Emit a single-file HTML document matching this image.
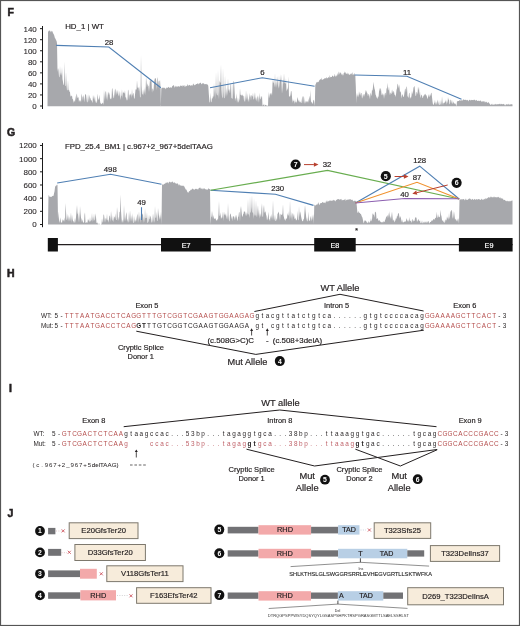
<!DOCTYPE html><html><head><meta charset="utf-8"><style>
html,body{margin:0;padding:0;background:#fff;}
body{width:520px;height:626px;overflow:hidden;position:relative;font-family:"Liberation Sans", sans-serif;}
svg{position:absolute;left:0;top:0;filter:blur(0.3px);}
text{font-family:"Liberation Sans", sans-serif;}
</style></head><body>
<svg width="520" height="626" viewBox="0 0 520 626">
<rect x="0.5" y="0.5" width="519" height="625" fill="#fff" stroke="#555" stroke-width="1.2"/>

<text x="7.40" y="16.08" font-size="10.5" text-anchor="start" font-weight="bold" fill="#231f20" stroke="#231f20" stroke-width="0.55" >F</text>
<text x="6.90" y="135.68" font-size="10.5" text-anchor="start" font-weight="bold" fill="#231f20" stroke="#231f20" stroke-width="0.55" >G</text>
<text x="7.00" y="276.78" font-size="10.5" text-anchor="start" font-weight="bold" fill="#231f20" stroke="#231f20" stroke-width="0.55" >H</text>
<text x="8.90" y="391.98" font-size="10.5" text-anchor="start" font-weight="bold" fill="#231f20" stroke="#231f20" stroke-width="0.55" >I</text>
<text x="7.40" y="516.68" font-size="10.5" text-anchor="start" font-weight="bold" fill="#231f20" stroke="#231f20" stroke-width="0.55" >J</text>
<g stroke="#1a1a1a" stroke-width="1.0" fill="none">
<line x1="42.5" y1="26" x2="42.5" y2="109"/>
<line x1="40" y1="106.00" x2="42.5" y2="106.00"/>
<line x1="40" y1="94.95" x2="42.5" y2="94.95"/>
<line x1="40" y1="83.90" x2="42.5" y2="83.90"/>
<line x1="40" y1="72.85" x2="42.5" y2="72.85"/>
<line x1="40" y1="61.80" x2="42.5" y2="61.80"/>
<line x1="40" y1="50.75" x2="42.5" y2="50.75"/>
<line x1="40" y1="39.70" x2="42.5" y2="39.70"/>
<line x1="40" y1="28.65" x2="42.5" y2="28.65"/>
</g>
<text x="36.80" y="108.88" font-size="8.0" text-anchor="end" font-weight="normal" fill="#231f20" stroke="#231f20" stroke-width="0.08" >0</text>
<text x="36.80" y="97.83" font-size="8.0" text-anchor="end" font-weight="normal" fill="#231f20" stroke="#231f20" stroke-width="0.08" >20</text>
<text x="36.80" y="86.78" font-size="8.0" text-anchor="end" font-weight="normal" fill="#231f20" stroke="#231f20" stroke-width="0.08" >40</text>
<text x="36.80" y="75.73" font-size="8.0" text-anchor="end" font-weight="normal" fill="#231f20" stroke="#231f20" stroke-width="0.08" >60</text>
<text x="36.80" y="64.68" font-size="8.0" text-anchor="end" font-weight="normal" fill="#231f20" stroke="#231f20" stroke-width="0.08" >80</text>
<text x="36.80" y="53.63" font-size="8.0" text-anchor="end" font-weight="normal" fill="#231f20" stroke="#231f20" stroke-width="0.08" >100</text>
<text x="36.80" y="42.58" font-size="8.0" text-anchor="end" font-weight="normal" fill="#231f20" stroke="#231f20" stroke-width="0.08" >120</text>
<text x="36.80" y="31.53" font-size="8.0" text-anchor="end" font-weight="normal" fill="#231f20" stroke="#231f20" stroke-width="0.08" >140</text>
<path d="M47.5,106.2 L47.5,106.0 L48.0,31.9 L48.5,31.2 L49.0,30.4 L49.5,30.8 L50.0,30.6 L50.5,31.4 L51.0,32.4 L51.5,31.0 L52.0,30.7 L52.5,31.8 L53.0,33.0 L53.5,34.1 L54.0,34.7 L54.5,36.6 L55.0,38.5 L55.5,38.4 L56.0,40.3 L56.5,40.7 L57.0,43.2 L57.5,72.0 L58.0,68.0 L58.5,70.1 L59.0,76.5 L59.5,77.5 L60.0,66.0 L60.5,75.4 L61.0,72.3 L61.5,75.9 L62.0,67.0 L62.5,79.0 L63.0,82.0 L63.5,84.9 L64.0,84.4 L64.5,61.5 L65.0,86.1 L65.5,85.8 L66.0,72.0 L66.5,84.3 L67.0,90.2 L67.5,90.3 L68.0,80.0 L68.5,90.6 L69.0,89.4 L69.5,91.7 L70.0,92.1 L70.5,97.0 L71.0,95.3 L71.5,96.5 L72.0,95.4 L72.5,99.2 L73.0,98.9 L73.5,102.9 L74.0,100.3 L74.5,100.9 L75.0,102.3 L75.5,95.5 L76.0,100.4 L76.5,93.5 L77.0,95.0 L77.5,98.0 L78.0,97.6 L78.5,97.2 L79.0,102.3 L79.5,99.8 L80.0,101.6 L80.5,100.1 L81.0,102.7 L81.5,93.6 L82.0,96.0 L82.5,97.2 L83.0,101.1 L83.5,94.8 L84.0,97.3 L84.5,102.5 L85.0,95.2 L85.5,93.9 L86.0,94.4 L86.5,98.4 L87.0,102.4 L87.5,102.0 L88.0,94.0 L88.5,98.6 L89.0,102.1 L89.5,94.7 L90.0,97.6 L90.5,98.4 L91.0,100.4 L91.5,100.1 L92.0,101.6 L92.5,103.1 L93.0,94.8 L93.5,99.5 L94.0,95.0 L94.5,100.9 L95.0,96.3 L95.5,103.1 L96.0,100.4 L96.5,103.1 L97.0,102.5 L97.5,93.6 L98.0,97.4 L98.5,99.9 L99.0,98.9 L99.5,94.8 L100.0,100.7 L100.5,103.6 L101.0,103.3 L101.5,104.3 L102.0,103.8 L102.5,103.0 L103.0,102.5 L103.5,104.9 L104.0,89.2 L104.5,101.2 L105.0,92.0 L105.5,91.1 L106.0,100.0 L106.5,96.6 L107.0,91.0 L107.5,101.1 L108.0,93.8 L108.5,91.4 L109.0,95.4 L109.5,92.3 L110.0,99.0 L110.5,99.3 L111.0,97.3 L111.5,99.5 L112.0,88.0 L112.5,89.0 L113.0,94.5 L113.5,97.6 L114.0,98.5 L114.5,88.9 L115.0,96.3 L115.5,88.5 L116.0,90.0 L116.5,95.3 L117.0,89.8 L117.5,92.1 L118.0,94.4 L118.5,96.5 L119.0,90.1 L119.5,96.7 L120.0,91.0 L120.5,100.1 L121.0,96.5 L121.5,95.3 L122.0,89.0 L122.5,98.7 L123.0,91.2 L123.5,93.1 L124.0,92.5 L124.5,93.7 L125.0,90.0 L125.5,97.7 L126.0,96.9 L126.5,99.3 L127.0,100.8 L127.5,99.2 L128.0,89.5 L128.5,90.7 L129.0,100.3 L129.5,94.1 L130.0,95.8 L130.5,94.2 L131.0,93.3 L131.5,98.1 L132.0,88.8 L132.5,96.0 L133.0,93.8 L133.5,92.7 L134.0,98.0 L134.5,99.1 L135.0,94.8 L135.5,90.0 L136.0,89.1 L136.5,90.0 L137.0,80.0 L137.5,86.9 L138.0,88.3 L138.5,86.9 L139.0,91.6 L139.5,85.9 L140.0,97.3 L140.5,97.3 L141.0,55.0 L141.5,85.7 L142.0,94.1 L142.5,94.7 L143.0,89.2 L143.5,96.1 L144.0,88.4 L144.5,94.2 L145.0,86.6 L145.5,95.6 L146.0,77.0 L146.5,81.8 L147.0,87.8 L147.5,83.3 L148.0,85.5 L148.5,86.0 L149.0,92.1 L149.5,86.1 L150.0,79.0 L150.5,81.9 L151.0,79.0 L151.5,80.5 L152.0,93.0 L152.5,88.5 L153.0,88.7 L153.5,91.6 L154.0,83.2 L154.5,80.0 L155.0,78.0 L155.5,78.3 L156.0,79.2 L156.5,90.2 L157.0,79.3 L157.5,76.9 L158.0,88.6 L158.5,82.0 L159.0,80.6 L159.5,80.9 L160.0,89.4 L160.5,79.5 L160.8,106.0 L161.3,88.7 L161.8,87.7 L162.3,87.9 L162.8,87.6 L163.3,87.6 L163.8,88.3 L164.3,87.6 L164.8,88.3 L165.3,88.3 L165.8,89.4 L166.3,86.9 L166.8,88.5 L167.3,87.7 L167.8,87.7 L168.3,86.7 L168.8,87.3 L169.3,88.1 L169.8,87.5 L170.3,87.5 L170.8,87.2 L171.3,88.1 L171.8,87.2 L172.3,85.6 L172.8,86.6 L173.3,85.6 L173.8,84.7 L174.3,86.5 L174.8,87.7 L175.3,86.7 L175.8,85.8 L176.3,85.9 L176.8,87.3 L177.3,86.5 L177.8,86.4 L178.3,86.2 L178.8,86.2 L179.3,86.7 L179.8,86.4 L180.3,86.1 L180.8,85.2 L181.3,86.3 L181.8,85.4 L182.3,86.7 L182.8,85.0 L183.3,85.7 L183.8,85.8 L184.3,84.9 L184.8,87.0 L185.3,86.8 L185.8,85.4 L186.3,86.2 L186.8,85.9 L187.3,83.8 L187.8,85.8 L188.3,85.5 L188.8,85.6 L189.3,84.8 L189.8,85.3 L190.3,85.3 L190.8,86.1 L191.3,85.4 L191.8,85.0 L192.3,86.0 L192.8,84.4 L193.3,84.4 L193.8,83.3 L194.3,85.5 L194.8,85.0 L195.3,84.8 L195.8,84.5 L196.3,84.0 L196.8,84.0 L197.3,83.5 L197.8,83.4 L198.3,83.5 L198.8,84.4 L199.3,83.6 L199.8,83.0 L200.3,82.7 L200.8,82.7 L201.3,84.4 L201.8,83.7 L202.3,83.5 L202.8,83.3 L203.3,82.9 L203.8,83.7 L204.3,84.5 L204.8,83.7 L205.3,84.0 L205.8,84.2 L206.3,84.6 L206.8,83.7 L207.3,84.8 L207.8,84.6 L208.3,86.0 L208.8,93.7 L209.5,102.3 L210.0,102.6 L210.5,92.4 L211.0,102.4 L211.5,101.8 L212.0,97.5 L212.5,99.0 L213.0,95.4 L213.5,97.5 L214.0,82.2 L214.5,97.0 L215.0,85.6 L215.5,99.4 L216.0,72.0 L216.5,92.5 L217.0,95.2 L217.5,95.3 L218.0,70.0 L218.5,91.7 L219.0,99.6 L219.5,80.3 L220.0,82.8 L220.5,82.2 L221.0,64.6 L221.5,89.6 L222.0,96.8 L222.5,98.6 L223.0,68.0 L223.5,90.9 L224.0,98.6 L224.5,97.7 L225.0,75.0 L225.5,91.8 L226.0,97.6 L226.5,87.8 L227.0,96.1 L227.5,90.9 L228.0,78.0 L228.5,91.2 L229.0,88.7 L229.5,90.7 L230.0,93.6 L230.5,85.1 L231.0,83.2 L231.5,97.7 L232.0,98.4 L232.5,98.7 L233.0,80.7 L233.5,81.6 L234.0,96.8 L234.5,80.9 L235.0,101.5 L235.5,98.3 L236.0,98.4 L236.5,93.3 L237.0,103.0 L237.5,100.4 L238.0,97.2 L238.5,102.8 L239.0,101.2 L239.5,98.8 L240.0,88.0 L240.5,95.3 L241.0,94.4 L241.5,95.3 L242.0,95.9 L242.5,94.2 L243.0,96.3 L243.5,95.6 L244.0,100.6 L244.5,101.9 L245.0,95.3 L245.5,101.9 L246.0,90.0 L246.5,97.3 L247.0,100.3 L247.5,93.0 L248.0,102.0 L248.5,98.2 L249.0,102.6 L249.5,92.7 L250.0,97.5 L250.5,94.7 L251.0,100.8 L251.5,94.8 L252.0,96.0 L252.5,96.7 L253.0,92.8 L253.5,99.2 L254.0,99.4 L254.5,96.1 L255.0,92.0 L255.5,100.2 L256.0,96.4 L256.5,101.5 L257.0,97.8 L257.5,95.2 L258.0,102.8 L258.5,95.7 L259.0,103.1 L259.5,92.7 L260.0,98.8 L260.5,99.4 L261.0,95.8 L261.5,98.1 L262.0,95.6 L262.5,106.1 L263.0,104.9 L263.5,104.9 L264.0,103.5 L264.5,106.2 L265.0,105.3 L265.5,104.7 L266.0,105.0 L266.5,106.1 L267.0,104.8 L267.5,105.9 L268.0,105.9 L268.5,91.5 L269.0,98.5 L269.5,96.0 L270.0,92.9 L270.5,93.4 L271.0,95.0 L271.5,92.3 L272.0,95.9 L272.5,83.6 L273.0,79.8 L273.5,82.5 L274.0,83.1 L274.5,87.5 L275.0,73.0 L275.5,87.7 L276.0,81.2 L276.5,88.0 L277.0,76.0 L277.5,81.0 L278.0,85.7 L278.5,88.7 L279.0,75.0 L279.5,88.0 L280.0,79.2 L280.5,80.4 L281.0,74.0 L281.5,81.8 L282.0,93.8 L282.5,87.8 L283.0,78.9 L283.5,84.3 L284.0,73.0 L284.5,82.7 L285.0,82.5 L285.5,84.2 L286.0,78.0 L286.5,91.4 L287.0,89.5 L287.5,89.5 L288.0,87.1 L288.5,76.2 L289.0,97.0 L289.5,96.1 L290.0,96.8 L290.5,94.7 L291.0,90.8 L291.5,91.4 L292.0,96.8 L292.5,103.0 L293.0,99.0 L293.5,101.6 L294.0,100.4 L294.5,103.9 L295.0,99.1 L295.5,102.7 L296.0,101.4 L296.5,102.9 L297.0,100.6 L297.5,96.9 L298.0,98.9 L298.5,101.8 L299.0,99.8 L299.5,101.8 L300.0,102.4 L300.5,101.3 L301.0,103.3 L301.5,102.5 L302.0,98.0 L302.5,95.8 L303.0,103.8 L303.5,96.3 L304.0,96.8 L304.5,101.7 L305.0,104.0 L305.5,100.4 L306.0,103.1 L306.5,100.7 L307.0,102.3 L307.5,100.7 L308.0,103.0 L308.5,100.5 L309.0,98.4 L309.5,95.4 L310.0,101.8 L310.5,89.7 L311.0,101.4 L311.5,102.0 L312.0,103.0 L312.5,104.0 L313.0,102.1 L313.5,99.8 L314.0,100.2 L314.5,103.4 L314.8,105.9 L315.3,85.0 L315.8,84.0 L316.3,82.8 L316.8,82.1 L317.3,82.5 L317.8,81.7 L318.3,82.2 L318.8,81.5 L319.3,79.4 L319.8,80.7 L320.3,78.8 L320.8,79.5 L321.3,79.8 L321.8,77.5 L322.3,79.9 L322.8,79.8 L323.3,79.3 L323.8,78.9 L324.3,78.8 L324.8,77.9 L325.3,78.6 L325.8,78.0 L326.3,78.6 L326.8,76.8 L327.3,78.4 L327.8,78.1 L328.3,77.5 L328.8,77.0 L329.3,77.9 L329.8,75.1 L330.3,77.5 L330.8,77.1 L331.3,77.0 L331.8,76.9 L332.3,75.5 L332.8,75.8 L333.3,76.8 L333.8,76.4 L334.3,76.0 L334.8,73.7 L335.3,76.1 L335.8,76.7 L336.3,76.3 L336.8,75.2 L337.3,72.9 L337.8,75.8 L338.3,74.3 L338.8,71.3 L339.3,74.7 L339.8,72.3 L340.3,72.4 L340.8,73.1 L341.3,75.3 L341.8,73.2 L342.3,73.9 L342.8,75.5 L343.3,75.3 L343.8,73.1 L344.3,72.9 L344.8,71.5 L345.3,72.2 L345.8,73.6 L346.3,73.7 L346.8,73.4 L347.3,74.6 L347.8,72.5 L348.3,73.5 L348.8,74.5 L349.3,74.4 L349.8,75.1 L350.3,74.3 L350.8,73.6 L351.3,74.5 L351.8,72.9 L352.3,72.2 L352.8,75.0 L353.3,74.3 L353.8,74.8 L354.3,72.8 L354.8,74.9 L355.3,75.1 L355.8,86.2 L356.3,103.3 L356.5,97.3 L357.0,92.6 L357.5,97.3 L358.0,94.2 L358.5,97.5 L359.0,91.1 L359.5,95.2 L360.0,91.4 L360.5,95.9 L361.0,92.9 L361.5,93.1 L362.0,98.8 L362.5,97.3 L363.0,93.8 L363.5,94.9 L364.0,97.0 L364.5,94.4 L365.0,93.8 L365.5,89.6 L366.0,93.5 L366.5,90.3 L367.0,92.6 L367.5,93.7 L368.0,96.5 L368.5,94.1 L369.0,94.2 L369.5,96.4 L370.0,99.3 L370.5,92.4 L371.0,94.1 L371.5,96.2 L372.0,89.5 L372.5,91.0 L373.0,87.1 L373.5,81.7 L374.0,86.1 L374.5,88.8 L375.0,90.3 L375.5,94.6 L376.0,95.6 L376.5,97.2 L377.0,98.1 L377.5,99.0 L378.0,95.9 L378.5,97.4 L379.0,91.8 L379.5,87.7 L380.0,91.6 L380.5,88.0 L381.0,88.9 L381.5,94.3 L382.0,95.4 L382.5,92.7 L383.0,95.8 L383.5,93.5 L384.0,99.0 L384.5,95.0 L385.0,93.1 L385.5,92.7 L386.0,96.1 L386.5,88.7 L387.0,88.1 L387.5,82.7 L388.0,90.8 L388.5,89.6 L389.0,86.6 L389.5,92.6 L390.0,95.5 L390.5,92.3 L391.0,93.5 L391.5,94.1 L392.0,89.2 L392.5,91.6 L393.0,93.4 L393.5,91.0 L394.0,91.6 L394.5,95.1 L395.0,94.6 L395.5,96.9 L396.0,94.5 L396.5,90.0 L397.0,88.3 L397.5,83.6 L398.0,84.7 L398.5,88.4 L399.0,84.3 L399.5,86.9 L400.0,92.4 L400.5,91.0 L401.0,93.0 L401.5,98.4 L402.0,95.3 L402.5,94.0 L403.0,96.3 L403.5,97.3 L404.0,96.1 L404.5,92.6 L405.0,89.1 L405.5,88.6 L406.0,92.7 L406.5,86.3 L407.0,87.2 L407.5,96.0 L408.0,96.9 L408.5,98.1 L409.0,93.2 L409.5,92.8 L410.0,99.2 L410.5,96.9 L411.0,97.9 L411.5,95.7 L412.0,90.6 L412.5,94.6 L413.0,91.9 L413.5,87.4 L414.0,86.9 L414.5,85.8 L415.0,90.8 L415.5,95.6 L416.0,96.3 L416.5,92.3 L417.0,92.1 L417.5,94.5 L418.0,86.5 L418.5,90.5 L419.0,86.8 L419.5,95.6 L420.0,91.3 L420.5,98.2 L421.0,96.0 L421.5,94.5 L422.0,95.6 L422.5,98.1 L423.0,97.8 L423.5,95.3 L424.0,96.1 L424.5,94.1 L425.0,95.1 L425.5,93.4 L426.0,95.8 L426.5,95.0 L427.0,97.2 L427.5,99.2 L428.0,96.9 L428.5,93.9 L429.0,97.4 L429.5,96.3 L430.0,93.9 L430.5,96.3 L431.0,93.0 L431.5,92.7 L432.0,97.0 L432.5,101.4 L433.0,104.4 L433.5,104.9 L434.0,103.5 L434.5,102.4 L435.0,99.8 L435.5,104.9 L436.0,101.6 L436.5,103.2 L437.0,104.9 L437.5,99.4 L438.0,101.7 L438.5,104.9 L439.0,100.0 L439.5,105.0 L440.0,105.0 L440.5,104.1 L441.0,99.7 L441.5,105.2 L442.0,96.0 L442.5,102.1 L443.0,105.1 L443.5,102.6 L444.0,103.3 L444.5,102.7 L445.0,101.4 L445.5,101.8 L446.0,99.2 L446.5,104.8 L447.0,100.8 L447.5,103.6 L448.0,97.0 L448.5,100.1 L449.0,99.3 L449.5,104.4 L450.0,103.4 L450.5,99.7 L451.0,99.7 L451.5,103.8 L452.0,99.7 L452.5,103.6 L453.0,103.8 L453.5,101.3 L454.0,103.3 L454.5,103.4 L455.0,103.8 L455.5,103.5 L456.0,104.9 L456.5,106.2 L457.0,101.0 L457.5,101.5 L458.0,101.0 L458.5,101.0 L459.0,100.9 L459.5,99.9 L460.0,100.5 L460.5,100.4 L461.0,100.6 L461.5,99.7 L462.0,101.2 L462.5,100.3 L463.0,99.6 L463.5,99.3 L464.0,100.0 L464.5,100.0 L465.0,99.6 L465.5,100.1 L466.0,99.7 L466.5,100.4 L467.0,99.7 L467.5,100.1 L468.0,100.6 L468.5,101.5 L469.0,99.7 L469.5,100.0 L470.0,99.8 L470.5,100.7 L471.0,99.7 L471.5,100.1 L472.0,100.3 L472.5,99.9 L473.0,99.9 L473.5,100.2 L474.0,99.4 L474.5,99.8 L475.0,100.3 L475.5,100.6 L476.0,100.5 L476.5,99.8 L477.0,100.5 L477.5,101.1 L478.0,101.1 L478.5,100.8 L479.0,100.5 L479.5,101.3 L480.0,100.7 L480.5,100.5 L481.0,100.7 L481.5,101.9 L482.0,101.3 L482.5,101.8 L483.0,101.1 L483.5,101.8 L484.0,101.1 L484.5,101.4 L485.0,102.7 L485.5,102.1 L486.0,101.6 L486.5,102.0 L487.0,102.4 L487.5,103.0 L488.0,102.4 L488.5,101.9 L489.0,102.9 L489.5,103.6 L490.0,104.3 L490.5,104.9 L491.0,104.4 L491.5,104.6 L492.0,103.6 L492.5,104.6 L493.0,105.2 L493.5,104.6 L494.0,104.3 L494.5,104.3 L495.0,105.1 L495.5,103.7 L496.0,104.1 L496.5,104.4 L497.0,104.6 L497.5,104.0 L498.0,104.4 L498.5,104.1 L499.0,104.3 L499.5,104.1 L500.0,103.6 L500.5,104.2 L501.0,104.6 L501.5,103.7 L502.0,104.1 L502.5,104.5 L503.0,103.7 L503.5,104.3 L504.0,103.7 L504.5,104.8 L505.0,105.4 L505.5,105.2 L506.0,104.1 L506.5,104.6 L507.0,104.3 L507.5,104.3 L508.0,105.0 L508.5,103.5 L509.0,104.7 L509.5,104.2 L510.0,104.9 L510.5,104.3 L511.0,103.9 L511.5,104.3 L512.0,104.6 L512.5,104.2 L512.5,106.2 Z" fill="#a7a8ac"/>
<text x="65.20" y="29.33" font-size="7.85" text-anchor="start" font-weight="normal" fill="#231f20" stroke="#231f20" stroke-width="0.18" >HD_1 | WT</text>
<polyline points="56.2,45.4 108.8,47 160.8,87.7" fill="none" stroke="#4f7fb3" stroke-width="1.1"/>
<polyline points="210,87.7 262.3,77.7 314.6,86.2" fill="none" stroke="#4f7fb3" stroke-width="1.1"/>
<polyline points="354.6,75 406.9,76.2 461.5,99.2" fill="none" stroke="#4f7fb3" stroke-width="1.1"/>
<text x="109.00" y="45.21" font-size="7.8" text-anchor="middle" font-weight="normal" fill="#231f20" stroke="#231f20" stroke-width="0.18" >28</text>
<text x="262.30" y="75.21" font-size="7.8" text-anchor="middle" font-weight="normal" fill="#231f20" stroke="#231f20" stroke-width="0.18" >6</text>
<text x="407.00" y="74.51" font-size="7.8" text-anchor="middle" font-weight="normal" fill="#231f20" stroke="#231f20" stroke-width="0.18" >11</text>
<g stroke="#1a1a1a" stroke-width="1.0" fill="none">
<line x1="42.5" y1="143" x2="42.5" y2="227.2"/>
<line x1="40" y1="224.50" x2="42.5" y2="224.50"/>
<line x1="40" y1="211.33" x2="42.5" y2="211.33"/>
<line x1="40" y1="198.16" x2="42.5" y2="198.16"/>
<line x1="40" y1="184.99" x2="42.5" y2="184.99"/>
<line x1="40" y1="171.82" x2="42.5" y2="171.82"/>
<line x1="40" y1="158.65" x2="42.5" y2="158.65"/>
<line x1="40" y1="145.48" x2="42.5" y2="145.48"/>
</g>
<text x="36.80" y="227.38" font-size="8.0" text-anchor="end" font-weight="normal" fill="#231f20" stroke="#231f20" stroke-width="0.08" >0</text>
<text x="36.80" y="214.21" font-size="8.0" text-anchor="end" font-weight="normal" fill="#231f20" stroke="#231f20" stroke-width="0.08" >200</text>
<text x="36.80" y="201.04" font-size="8.0" text-anchor="end" font-weight="normal" fill="#231f20" stroke="#231f20" stroke-width="0.08" >400</text>
<text x="36.80" y="187.87" font-size="8.0" text-anchor="end" font-weight="normal" fill="#231f20" stroke="#231f20" stroke-width="0.08" >600</text>
<text x="36.80" y="174.70" font-size="8.0" text-anchor="end" font-weight="normal" fill="#231f20" stroke="#231f20" stroke-width="0.08" >800</text>
<text x="36.80" y="161.53" font-size="8.0" text-anchor="end" font-weight="normal" fill="#231f20" stroke="#231f20" stroke-width="0.08" >1000</text>
<text x="36.80" y="148.36" font-size="8.0" text-anchor="end" font-weight="normal" fill="#231f20" stroke="#231f20" stroke-width="0.08" >1200</text>
<path d="M48.0,224.6 L48.0,224.6 L48.5,195.6 L49.0,195.3 L49.5,196.8 L50.0,197.1 L50.5,196.8 L51.0,196.7 L51.5,197.0 L52.0,196.3 L52.5,195.9 L53.0,195.7 L53.5,195.9 L54.0,193.4 L54.5,191.5 L55.0,187.5 L55.5,185.7 L56.0,186.0 L56.5,185.3 L57.0,184.6 L57.5,184.9 L58.0,219.9 L58.5,211.2 L59.0,219.0 L59.5,223.0 L60.0,220.4 L60.5,217.2 L61.0,223.0 L61.5,222.0 L62.0,223.1 L62.5,219.0 L63.0,220.9 L63.5,219.5 L64.0,221.7 L64.5,217.2 L65.0,222.6 L65.5,203.0 L66.0,211.5 L66.5,219.6 L67.0,219.9 L67.5,213.6 L68.0,221.8 L68.5,214.7 L69.0,221.8 L69.5,216.2 L70.0,221.4 L70.5,218.1 L71.0,212.2 L71.5,223.0 L72.0,214.6 L72.5,219.0 L73.0,220.9 L73.5,221.2 L74.0,223.0 L74.5,222.0 L75.0,217.8 L75.5,222.9 L76.0,217.0 L76.5,211.4 L77.0,205.0 L77.5,213.0 L78.0,214.6 L78.5,222.5 L79.0,211.3 L79.5,222.4 L80.0,206.0 L80.5,213.2 L81.0,217.8 L81.5,219.2 L82.0,222.4 L82.5,219.3 L83.0,221.7 L83.5,222.8 L84.0,222.8 L84.5,214.7 L85.0,212.3 L85.5,222.7 L86.0,223.1 L86.5,222.0 L87.0,222.8 L87.5,222.5 L88.0,218.4 L88.5,220.5 L89.0,220.4 L89.5,222.4 L90.0,217.1 L90.5,221.8 L91.0,220.7 L91.5,220.0 L92.0,212.7 L92.5,222.1 L93.0,216.2 L93.5,221.6 L94.0,212.9 L94.5,220.8 L95.0,219.4 L95.5,213.2 L96.0,217.0 L96.5,222.9 L97.0,222.8 L97.5,222.6 L98.0,224.6 L98.5,224.4 L99.0,222.7 L99.5,224.6 L100.0,224.5 L100.5,224.5 L101.0,224.6 L101.5,224.1 L102.0,218.2 L102.5,221.5 L103.0,222.9 L103.5,214.5 L104.0,214.7 L104.5,218.7 L105.0,222.7 L105.5,219.0 L106.0,217.7 L106.5,220.4 L107.0,213.5 L107.5,220.8 L108.0,219.4 L108.5,222.8 L109.0,218.6 L109.5,215.4 L110.0,216.0 L110.5,222.0 L111.0,210.8 L111.5,216.2 L112.0,220.4 L112.5,220.5 L113.0,215.1 L113.5,222.6 L114.0,217.5 L114.5,216.2 L115.0,219.3 L115.5,213.3 L116.0,219.9 L116.5,220.0 L117.0,207.0 L117.5,212.4 L118.0,221.5 L118.5,216.6 L119.0,220.6 L119.5,212.0 L120.0,211.7 L120.5,194.6 L121.0,210.7 L121.5,218.0 L122.0,223.0 L122.5,219.5 L123.0,223.0 L123.5,218.9 L124.0,205.0 L124.5,216.8 L125.0,221.6 L125.5,218.1 L126.0,214.3 L126.5,212.0 L127.0,221.4 L127.5,218.6 L128.0,223.1 L128.5,221.0 L129.0,211.5 L129.5,222.8 L130.0,210.0 L130.5,217.3 L131.0,221.7 L131.5,215.1 L132.0,221.8 L132.5,212.9 L133.0,223.0 L133.5,222.8 L134.0,215.7 L134.5,220.1 L135.0,222.7 L135.5,219.3 L136.0,221.7 L136.5,218.8 L137.0,215.8 L137.5,213.6 L138.0,223.0 L138.5,218.2 L139.0,211.0 L139.5,220.0 L140.0,215.3 L140.5,222.9 L141.0,213.3 L141.5,218.4 L142.0,213.0 L142.5,215.0 L143.0,213.4 L143.5,223.0 L144.0,216.3 L144.5,222.4 L145.0,208.0 L145.5,218.0 L146.0,218.2 L146.5,217.7 L147.0,212.1 L147.5,223.1 L148.0,222.5 L148.5,221.1 L149.0,214.4 L149.5,218.8 L150.0,219.4 L150.5,215.5 L151.0,217.3 L151.5,221.8 L152.0,222.9 L152.5,220.0 L153.0,213.2 L153.5,218.1 L154.0,223.0 L154.5,220.2 L155.0,206.0 L155.5,217.2 L156.0,218.3 L156.5,211.7 L157.0,221.3 L157.5,220.6 L158.0,208.0 L158.5,213.0 L159.0,216.4 L159.5,219.9 L160.0,214.5 L160.5,219.7 L161.0,211.4 L161.5,224.6 L162.0,183.9 L162.5,184.5 L163.0,185.3 L163.5,184.5 L164.0,183.7 L164.5,183.8 L165.0,183.9 L165.5,183.0 L166.0,182.5 L166.5,183.0 L167.0,182.3 L167.5,182.6 L168.0,182.5 L168.5,183.7 L169.0,181.6 L169.5,181.9 L170.0,181.7 L170.5,182.2 L171.0,182.7 L171.5,181.9 L172.0,181.8 L172.5,181.4 L173.0,182.0 L173.5,183.0 L174.0,182.8 L174.5,182.3 L175.0,182.8 L175.5,183.3 L176.0,183.8 L176.5,183.4 L177.0,183.8 L177.5,183.2 L178.0,183.8 L178.5,185.7 L179.0,183.7 L179.5,185.0 L180.0,185.6 L180.5,185.4 L181.0,185.3 L181.5,185.8 L182.0,186.0 L182.5,186.1 L183.0,185.1 L183.5,186.3 L184.0,186.0 L184.5,186.9 L185.0,188.0 L185.5,188.9 L186.0,189.8 L186.5,189.6 L187.0,191.2 L187.5,192.0 L188.0,192.7 L188.5,192.5 L189.0,191.3 L189.5,191.0 L190.0,191.2 L190.5,189.6 L191.0,190.3 L191.5,189.5 L192.0,189.3 L192.5,188.4 L193.0,188.8 L193.5,189.3 L194.0,189.8 L194.5,189.8 L195.0,189.1 L195.5,188.9 L196.0,188.5 L196.5,189.2 L197.0,188.7 L197.5,189.2 L198.0,189.8 L198.5,188.7 L199.0,187.7 L199.5,188.0 L200.0,187.6 L200.5,187.8 L201.0,189.3 L201.5,188.7 L202.0,187.7 L202.5,189.0 L203.0,189.4 L203.5,188.5 L204.0,188.3 L204.5,188.5 L205.0,188.9 L205.5,189.2 L206.0,189.5 L206.5,189.6 L207.0,189.6 L207.5,189.7 L208.0,189.3 L208.5,188.0 L209.0,188.9 L209.5,189.2 L210.0,188.8 L210.5,224.6 L211.0,217.4 L211.5,216.3 L212.0,210.8 L212.5,215.3 L213.0,218.9 L213.5,214.9 L214.0,218.1 L214.5,218.7 L215.0,219.2 L215.5,217.8 L216.0,220.0 L216.5,220.3 L217.0,221.0 L217.5,218.4 L218.0,219.9 L218.5,213.2 L219.0,201.0 L219.5,215.2 L220.0,216.2 L220.5,212.2 L221.0,219.2 L221.5,217.1 L222.0,218.4 L222.5,215.8 L223.0,211.3 L223.5,221.0 L224.0,211.2 L224.5,215.6 L225.0,213.8 L225.5,216.0 L226.0,212.7 L226.5,219.6 L227.0,215.0 L227.5,220.1 L228.0,203.0 L228.5,215.4 L229.0,220.6 L229.5,221.4 L230.0,213.9 L230.5,213.6 L231.0,215.6 L231.5,219.6 L232.0,215.7 L232.5,221.3 L233.0,215.7 L233.5,216.8 L234.0,216.3 L234.5,218.3 L235.0,220.4 L235.5,214.8 L236.0,218.1 L236.5,214.5 L237.0,219.2 L237.5,221.3 L238.0,217.2 L238.5,216.2 L239.0,211.9 L239.5,212.4 L240.0,221.4 L240.5,209.4 L241.0,206.0 L241.5,210.9 L242.0,216.1 L242.5,216.9 L243.0,214.5 L243.5,213.8 L244.0,210.9 L244.5,212.0 L245.0,211.2 L245.5,216.0 L246.0,211.2 L246.5,216.6 L247.0,212.5 L247.5,214.9 L248.0,199.0 L248.5,214.4 L249.0,214.3 L249.5,218.1 L250.0,196.0 L250.5,213.2 L251.0,211.6 L251.5,206.9 L252.0,195.0 L252.5,212.8 L253.0,212.3 L253.5,218.9 L254.0,198.0 L254.5,214.0 L255.0,216.3 L255.5,214.4 L256.0,200.0 L256.5,214.8 L257.0,217.4 L257.5,210.6 L258.0,204.9 L258.5,216.3 L259.0,209.1 L259.5,218.8 L260.0,213.0 L260.5,215.3 L261.0,217.3 L261.5,208.4 L262.0,203.0 L262.5,216.0 L263.0,217.2 L263.5,208.5 L264.0,204.8 L264.5,212.4 L265.0,212.6 L265.5,210.9 L266.0,214.6 L266.5,215.9 L267.0,220.5 L267.5,219.1 L268.0,216.2 L268.5,211.8 L269.0,219.8 L269.5,218.9 L270.0,221.6 L270.5,215.2 L271.0,218.4 L271.5,213.8 L272.0,220.4 L272.5,215.7 L273.0,200.0 L273.5,214.8 L274.0,220.7 L274.5,218.8 L275.0,214.5 L275.5,220.7 L276.0,221.3 L276.5,218.1 L277.0,220.4 L277.5,213.7 L278.0,213.5 L278.5,211.5 L279.0,213.1 L279.5,215.9 L280.0,220.7 L280.5,213.4 L281.0,214.8 L281.5,214.5 L282.0,215.2 L282.5,213.3 L283.0,204.0 L283.5,215.5 L284.0,217.5 L284.5,219.4 L285.0,219.5 L285.5,220.9 L286.0,217.8 L286.5,219.1 L287.0,218.6 L287.5,213.0 L288.0,215.4 L288.5,215.4 L289.0,210.9 L289.5,220.5 L290.0,200.0 L290.5,214.8 L291.0,218.9 L291.5,211.4 L292.0,221.3 L292.5,214.3 L293.0,212.7 L293.5,217.6 L294.0,213.8 L294.5,218.4 L295.0,219.3 L295.5,217.6 L296.0,220.7 L296.5,219.7 L297.0,219.7 L297.5,210.8 L298.0,219.5 L298.5,220.4 L299.0,206.0 L299.5,217.2 L300.0,211.2 L300.5,212.9 L301.0,215.9 L301.5,218.5 L302.0,220.6 L302.5,221.2 L303.0,221.2 L303.5,219.3 L304.0,218.7 L304.5,211.8 L305.0,205.0 L305.5,210.8 L306.0,214.9 L306.5,221.0 L307.0,217.1 L307.5,220.9 L308.0,221.5 L308.5,211.5 L309.0,219.4 L309.5,220.7 L310.0,221.2 L310.5,215.8 L311.0,218.2 L311.5,221.6 L312.0,214.9 L312.5,220.2 L313.0,214.0 L313.5,217.8 L313.8,224.1 L314.3,204.4 L314.8,205.2 L315.3,205.7 L315.8,205.1 L316.3,204.2 L316.8,205.2 L317.3,203.3 L317.8,204.9 L318.3,203.5 L318.8,202.1 L319.3,205.3 L319.8,204.5 L320.3,202.8 L320.8,203.4 L321.3,203.0 L321.8,203.1 L322.3,202.0 L322.8,202.3 L323.3,202.8 L323.8,202.6 L324.3,203.0 L324.8,202.2 L325.3,203.4 L325.8,201.4 L326.3,201.9 L326.8,200.5 L327.3,200.8 L327.8,202.2 L328.3,200.7 L328.8,201.5 L329.3,201.0 L329.8,200.3 L330.3,200.7 L330.8,200.5 L331.3,200.4 L331.8,201.0 L332.3,200.9 L332.8,200.0 L333.3,199.8 L333.8,200.4 L334.3,200.1 L334.8,200.7 L335.3,201.6 L335.8,200.5 L336.3,199.9 L336.8,199.7 L337.3,199.3 L337.8,199.2 L338.3,199.0 L338.8,199.3 L339.3,199.2 L339.8,199.9 L340.3,199.2 L340.8,199.3 L341.3,198.7 L341.8,200.4 L342.3,199.7 L342.8,200.4 L343.3,199.8 L343.8,200.2 L344.3,199.2 L344.8,199.8 L345.3,201.0 L345.8,198.6 L346.3,200.0 L346.8,200.3 L347.3,199.6 L347.8,199.8 L348.3,200.1 L348.8,199.0 L349.3,199.8 L349.8,199.1 L350.3,199.3 L350.8,199.4 L351.3,199.8 L351.8,200.1 L352.3,200.4 L352.8,199.3 L353.3,201.5 L353.8,201.1 L354.3,200.9 L354.8,200.4 L355.3,200.7 L355.8,201.2 L356.3,201.2 L356.8,206.0 L357.3,211.7 L357.8,213.3 L358.3,210.7 L358.8,212.8 L359.3,212.8 L359.8,212.8 L360.3,214.3 L360.8,213.5 L361.3,215.1 L361.8,216.6 L362.3,217.2 L362.8,219.2 L363.3,221.7 L363.8,223.5 L364.5,220.5 L365.0,220.5 L365.5,220.4 L366.0,221.3 L366.5,221.5 L367.0,222.8 L367.5,222.5 L368.0,223.6 L368.5,220.7 L369.0,222.4 L369.5,222.8 L370.0,221.5 L370.5,220.9 L371.0,218.0 L371.5,221.6 L372.0,219.8 L372.5,213.9 L373.0,213.3 L373.5,214.7 L374.0,214.9 L374.5,217.8 L375.0,211.2 L375.5,212.5 L376.0,212.0 L376.5,218.9 L377.0,218.8 L377.5,218.1 L378.0,219.1 L378.5,221.3 L379.0,219.9 L379.5,220.3 L380.0,221.6 L380.5,221.6 L381.0,222.2 L381.5,222.4 L382.0,221.7 L382.5,222.1 L383.0,223.0 L383.5,221.0 L384.0,222.0 L384.5,221.9 L385.0,220.3 L385.5,219.3 L386.0,217.6 L386.5,216.6 L387.0,216.3 L387.5,214.7 L388.0,218.7 L388.5,212.8 L389.0,216.9 L389.5,211.0 L390.0,218.2 L390.5,215.9 L391.0,219.8 L391.5,215.2 L392.0,211.5 L392.5,216.8 L393.0,221.6 L393.5,219.8 L394.0,219.7 L394.5,222.6 L395.0,221.3 L395.5,220.1 L396.0,217.8 L396.5,219.3 L397.0,215.4 L397.5,216.8 L398.0,213.5 L398.5,213.0 L399.0,214.0 L399.5,218.7 L400.0,215.9 L400.5,217.0 L401.0,218.3 L401.5,222.4 L402.0,219.3 L402.5,221.5 L403.0,222.8 L403.5,222.3 L404.0,221.8 L404.5,221.4 L405.0,222.1 L405.5,221.6 L406.0,220.8 L406.5,218.0 L407.0,219.7 L407.5,221.7 L408.0,219.3 L408.5,220.9 L409.0,222.0 L409.5,216.9 L410.0,221.1 L410.5,220.4 L411.0,221.6 L411.5,223.1 L412.0,219.6 L412.5,218.9 L413.0,222.0 L413.5,220.6 L414.0,220.5 L414.5,221.3 L415.0,218.2 L415.5,217.3 L416.0,217.3 L416.5,218.0 L417.0,221.9 L417.5,221.0 L418.0,219.7 L418.5,219.1 L419.0,221.1 L419.5,221.2 L420.0,219.9 L420.5,223.3 L421.0,222.7 L421.5,222.8 L422.0,220.3 L422.5,223.0 L423.0,223.5 L423.5,222.3 L424.0,221.5 L424.5,223.2 L425.0,220.9 L425.5,223.0 L426.0,221.4 L426.5,223.2 L427.0,220.7 L427.5,223.0 L428.0,221.3 L428.5,220.9 L429.0,222.9 L429.5,223.4 L430.0,221.8 L430.5,222.1 L431.0,221.9 L431.5,220.3 L432.0,221.1 L432.5,220.4 L433.0,219.8 L433.5,219.2 L434.0,218.8 L434.5,219.9 L435.0,218.2 L435.5,217.9 L436.0,217.5 L436.5,211.6 L437.0,218.2 L437.5,217.3 L438.0,214.0 L438.5,216.5 L439.0,217.6 L439.5,216.9 L440.0,216.5 L440.5,209.8 L441.0,214.7 L441.5,216.6 L442.0,220.1 L442.5,220.6 L443.0,221.3 L443.5,222.4 L444.0,220.0 L444.5,223.0 L445.0,222.3 L445.5,219.8 L446.0,219.6 L446.5,220.8 L447.0,216.1 L447.5,218.9 L448.0,216.9 L448.5,220.1 L449.0,212.8 L449.5,219.2 L450.0,216.3 L450.5,210.7 L451.0,212.0 L451.5,209.8 L452.0,210.6 L452.5,217.0 L453.0,219.0 L453.5,210.8 L454.0,219.1 L454.5,211.3 L455.0,220.3 L455.5,218.4 L456.0,219.8 L456.5,221.4 L457.0,218.9 L457.5,221.8 L458.0,217.9 L458.5,219.7 L459.0,223.7 L459.5,199.7 L460.0,199.2 L460.5,199.8 L461.0,198.9 L461.5,199.1 L462.0,200.5 L462.5,199.0 L463.0,199.1 L463.5,199.3 L464.0,199.0 L464.5,200.1 L465.0,200.4 L465.5,199.1 L466.0,198.5 L466.5,199.9 L467.0,199.9 L467.5,199.7 L468.0,199.8 L468.5,198.7 L469.0,199.0 L469.5,198.4 L470.0,198.3 L470.5,199.5 L471.0,198.7 L471.5,200.2 L472.0,199.2 L472.5,198.8 L473.0,199.6 L473.5,200.1 L474.0,199.5 L474.5,198.7 L475.0,199.5 L475.5,200.0 L476.0,199.1 L476.5,199.0 L477.0,199.9 L477.5,199.5 L478.0,198.9 L478.5,199.3 L479.0,199.1 L479.5,199.6 L480.0,199.5 L480.5,200.0 L481.0,199.7 L481.5,198.6 L482.0,199.5 L482.5,199.8 L483.0,199.5 L483.5,199.8 L484.0,199.0 L484.5,198.7 L485.0,199.7 L485.5,198.5 L486.0,197.8 L486.5,199.2 L487.0,198.2 L487.5,198.2 L488.0,197.5 L488.5,197.3 L489.0,197.3 L489.5,197.5 L490.0,197.7 L490.5,196.3 L491.0,197.8 L491.5,196.8 L492.0,196.8 L492.5,197.6 L493.0,197.2 L493.5,196.4 L494.0,198.0 L494.5,196.6 L495.0,197.1 L495.5,197.1 L496.0,197.8 L496.5,196.9 L497.0,197.6 L497.5,196.8 L498.0,197.7 L498.5,196.8 L499.0,197.1 L499.5,198.2 L500.0,197.5 L500.5,197.6 L501.0,199.0 L501.5,198.3 L502.0,198.0 L502.5,199.1 L503.0,198.4 L503.5,199.9 L504.0,200.2 L504.5,199.7 L505.0,199.9 L505.5,200.7 L506.0,200.9 L506.5,200.7 L507.0,201.8 L507.5,200.4 L508.0,201.2 L508.5,201.2 L509.0,201.2 L509.5,201.4 L510.0,200.6 L510.5,201.5 L511.0,201.1 L511.5,200.8 L512.0,200.4 L512.5,200.4 L512.5,224.6 Z" fill="#a7a8ac"/>
<text x="64.90" y="149.23" font-size="7.85" text-anchor="start" font-weight="normal" fill="#231f20" stroke="#231f20" stroke-width="0.18" >FPD_25.4_BM1 | c.967+2_967+5delTAAG</text>
<g fill="none" stroke-width="1.1">
<polyline points="57.2,183 110.5,174.2 161.5,184.2" stroke="#4f7fb3"/>
<polyline points="141.5,207.2 141.5,220" stroke="#4f7fb3"/>
<polyline points="210.5,190.3 275.4,194.3 313.5,205.4" stroke="#4f7fb3"/>
<polyline points="210.5,190.3 327.5,170.4 459.2,199" stroke="#68ad4f"/>
<polyline points="355.4,203 419.7,166.2 459.2,199" stroke="#4f7fb3"/>
<polyline points="355.4,203 417,182.3 459.2,199" stroke="#f0922e"/>
<polyline points="355.4,203 404.6,198.5 459.2,198.8" stroke="#8c5fb0"/>
</g>
<text x="110.30" y="171.91" font-size="7.8" text-anchor="middle" font-weight="normal" fill="#231f20" stroke="#231f20" stroke-width="0.18" >498</text>
<text x="141.50" y="205.01" font-size="7.8" text-anchor="middle" font-weight="normal" fill="#231f20" stroke="#231f20" stroke-width="0.18" >49</text>
<text x="277.70" y="191.41" font-size="7.8" text-anchor="middle" font-weight="normal" fill="#231f20" stroke="#231f20" stroke-width="0.18" >230</text>
<text x="327.00" y="167.21" font-size="7.8" text-anchor="middle" font-weight="normal" fill="#231f20" stroke="#231f20" stroke-width="0.18" >32</text>
<text x="419.70" y="163.21" font-size="7.8" text-anchor="middle" font-weight="normal" fill="#231f20" stroke="#231f20" stroke-width="0.18" >128</text>
<text x="417.00" y="179.61" font-size="7.8" text-anchor="middle" font-weight="normal" fill="#231f20" stroke="#231f20" stroke-width="0.18" >87</text>
<text x="404.60" y="196.51" font-size="7.8" text-anchor="middle" font-weight="normal" fill="#231f20" stroke="#231f20" stroke-width="0.18" >40</text>
<circle cx="295.6" cy="164.5" r="5.1" fill="#111"/>
<text x="295.6" y="167.02" font-size="7.0" font-weight="bold" text-anchor="middle" fill="#fff">7</text>
<circle cx="385.8" cy="176.2" r="5.1" fill="#111"/>
<text x="385.8" y="178.72" font-size="7.0" font-weight="bold" text-anchor="middle" fill="#fff">5</text>
<circle cx="456.6" cy="182.8" r="5.1" fill="#111"/>
<text x="456.6" y="185.32" font-size="7.0" font-weight="bold" text-anchor="middle" fill="#fff">6</text>
<line x1="304" y1="164.6" x2="313.90" y2="164.60" stroke="#b8402f" stroke-width="1.0"/>
<polygon points="318.5,164.6 313.90,166.80 313.90,162.40" fill="#b8402f"/>
<line x1="394.6" y1="176.5" x2="403.90" y2="176.50" stroke="#b8402f" stroke-width="1.0"/>
<polygon points="408.5,176.5 403.90,178.70 403.90,174.30" fill="#b8402f"/>
<line x1="447.7" y1="185" x2="416.76" y2="192.69" stroke="#b8402f" stroke-width="1.0"/>
<polygon points="412.3,193.8 416.23,190.56 417.29,194.83" fill="#b8402f"/>
<line x1="48" y1="244.7" x2="512.6" y2="244.7" stroke="#231f20" stroke-width="1.2"/>
<rect x="47.8" y="238" width="10.10" height="13.5" fill="#111"/>
<rect x="161" y="238" width="49.80" height="13.5" fill="#111"/>
<rect x="314.2" y="238" width="41.50" height="13.5" fill="#111"/>
<rect x="458.9" y="238" width="53.70" height="13.5" fill="#111"/>
<text x="186.20" y="247.59" font-size="7.2" text-anchor="middle" font-weight="normal" fill="#fff" stroke="#fff" stroke-width="0.18" >E7</text>
<text x="334.80" y="247.59" font-size="7.2" text-anchor="middle" font-weight="normal" fill="#fff" stroke="#fff" stroke-width="0.18" >E8</text>
<text x="489.00" y="247.59" font-size="7.2" text-anchor="middle" font-weight="normal" fill="#fff" stroke="#fff" stroke-width="0.18" >E9</text>
<text x="356.60" y="233.48" font-size="8" text-anchor="middle" font-weight="normal" fill="#231f20" stroke="#231f20" stroke-width="0.18" >*</text>
<text x="40.90" y="318.20" font-size="6.4" text-anchor="start" font-weight="normal" fill="#231f20" >WT:</text>
<text x="40.90" y="328.40" font-size="6.4" text-anchor="start" font-weight="normal" fill="#231f20" >Mut:</text>
<text y="318.20" font-size="6.4" text-anchor="middle"><tspan x="56.37 61.52" fill="#231f20" stroke="#231f20" stroke-width="0.0" font-weight="normal">5-</tspan></text>
<text y="328.40" font-size="6.4" text-anchor="middle"><tspan x="56.37 61.52" fill="#231f20" stroke="#231f20" stroke-width="0.0" font-weight="normal">5-</tspan></text>
<text y="318.20" font-size="6.4" text-anchor="middle"><tspan x="66.67 71.82 76.97 82.12 87.27 92.42 97.57 102.72 107.88 113.03 118.17 123.32 128.47 133.62 138.78 143.93 149.07 154.22 159.38 164.53 169.68 174.82 179.98 185.12 190.28 195.43 200.58 205.72 210.88 216.03 221.18 226.33 231.47 236.62 241.78 246.93 252.08" fill="#b44c4b" stroke="#b44c4b" stroke-width="0.0" font-weight="normal">TTTAATGACCTCAGGTTTGTCGGTCGAAGTGGAAGAG</tspan><tspan x="257.23 262.38 267.52 272.68 277.83 282.98 288.12 293.27 298.43 303.58 308.73 313.88 319.02 324.18 329.33 334.48 339.62 344.77 349.93 355.08 360.23 365.38 370.52 375.68 380.83 385.98 391.12 396.27 401.43 406.58 411.73 416.88 422.02" fill="#231f20" stroke="#231f20" stroke-width="0.0" font-weight="normal">gtacgttatctgtca......gtgtccccacag</tspan><tspan x="427.18 432.33 437.48 442.62 447.77 452.93 458.08 463.23 468.38 473.52 478.68 483.83 488.98 494.12" fill="#b44c4b" stroke="#b44c4b" stroke-width="0.0" font-weight="normal">GGAAAAGCTTCACT</tspan><tspan x="499.27 504.43" fill="#231f20" stroke="#231f20" stroke-width="0.0" font-weight="normal">-3</tspan></text>
<text y="328.40" font-size="6.4" text-anchor="middle"><tspan x="66.67 71.82 76.97 82.12 87.27 92.42 97.57 102.72 107.88 113.03 118.17 123.32 128.47 133.62" fill="#b44c4b" stroke="#b44c4b" stroke-width="0.0" font-weight="normal">TTTAATGACCTCAG</tspan><tspan x="138.78 143.93" fill="#231f20" stroke="#231f20" stroke-width="0.0" font-weight="bold">GT</tspan><tspan x="149.07 154.22 159.38 164.53 169.68 174.82 179.98 185.12 190.28 195.43 200.58 205.72 210.88 216.03 221.18 226.33 231.47 236.62 241.78 246.93 257.23 262.38 272.68 277.83 282.98 288.12 293.27 298.43 303.58 308.73 313.88 319.02 324.18 329.33 334.48 339.62 344.77 349.93 355.08 360.23 365.38 370.52 375.68 380.83 385.98 391.12 396.27 401.43 406.58 411.73 416.88 422.02" fill="#231f20" stroke="#231f20" stroke-width="0.0" font-weight="normal">TTGTCGGTCGAAGTGGAAGAgtcgttatctgtca......gtgtccccacag</tspan><tspan x="427.18 432.33 437.48 442.62 447.77 452.93 458.08 463.23 468.38 473.52 478.68 483.83 488.98 494.12" fill="#b44c4b" stroke="#b44c4b" stroke-width="0.0" font-weight="normal">GGAAAAGCTTCACT</tspan><tspan x="499.27 504.43" fill="#231f20" stroke="#231f20" stroke-width="0.0" font-weight="normal">-3</tspan></text>
<text x="146.90" y="307.86" font-size="7.4" text-anchor="middle" font-weight="normal" fill="#231f20" stroke="#231f20" stroke-width="0.18" >Exon 5</text>
<text x="340.00" y="290.95" font-size="9.3" text-anchor="middle" font-weight="normal" fill="#231f20" stroke="#231f20" stroke-width="0.18" >WT Allele</text>
<text x="336.50" y="307.96" font-size="7.4" text-anchor="middle" font-weight="normal" fill="#231f20" stroke="#231f20" stroke-width="0.18" >Intron 5</text>
<text x="464.80" y="307.96" font-size="7.4" text-anchor="middle" font-weight="normal" fill="#231f20" stroke="#231f20" stroke-width="0.18" >Exon 6</text>
<polyline points="254.4,311.5 340,294.3 423.6,311" fill="none" stroke="#231f20" stroke-width="1"/>
<polyline points="136.3,331.2 255.8,354.4 423.8,330.2" fill="none" stroke="#231f20" stroke-width="1"/>
<text x="141.00" y="349.52" font-size="7.55" text-anchor="middle" font-weight="normal" fill="#231f20" stroke="#231f20" stroke-width="0.18" >Cryptic Splice</text>
<text x="140.70" y="358.76" font-size="7.4" text-anchor="middle" font-weight="normal" fill="#231f20" stroke="#231f20" stroke-width="0.18" >Donor 1</text>
<text x="248.40" y="342.64" font-size="7.9" text-anchor="end" font-weight="normal" fill="#231f20" stroke="#231f20" stroke-width="0.18" >(c.508G&gt;C)</text>
<text x="251.10" y="342.64" font-size="7.9" text-anchor="middle" font-weight="normal" fill="#231f20" stroke="#231f20" stroke-width="0.18" >C</text>
<text x="267.30" y="343.14" font-size="7.9" text-anchor="middle" font-weight="normal" fill="#231f20" stroke="#231f20" stroke-width="0.18" >-</text>
<text x="272.80" y="342.64" font-size="7.9" text-anchor="start" font-weight="normal" fill="#231f20" stroke="#231f20" stroke-width="0.18" >(c.508+3delA)</text>
<line x1="251.6" y1="335.5" x2="251.60" y2="330.90" stroke="#231f20" stroke-width="0.8"/>
<polygon points="251.6,328.3 253.10,330.90 250.10,330.90" fill="#231f20"/>
<line x1="267.3" y1="335.5" x2="267.30" y2="330.90" stroke="#231f20" stroke-width="0.8"/>
<polygon points="267.3,328.3 268.80,330.90 265.80,330.90" fill="#231f20"/>
<text x="227.60" y="364.91" font-size="9.2" text-anchor="start" font-weight="normal" fill="#231f20" stroke="#231f20" stroke-width="0.18" >Mut Allele</text>
<circle cx="279.8" cy="361.1" r="5.0" fill="#111"/>
<text x="279.8" y="363.55" font-size="6.8" font-weight="bold" text-anchor="middle" fill="#fff">4</text>
<text x="33.40" y="435.80" font-size="6.4" text-anchor="start" font-weight="normal" fill="#231f20" >WT:</text>
<text x="33.40" y="445.70" font-size="6.4" text-anchor="start" font-weight="normal" fill="#231f20" >Mut:</text>
<text y="435.80" font-size="6.4" text-anchor="middle"><tspan x="53.88 59.03" fill="#231f20" stroke="#231f20" stroke-width="0.0" font-weight="normal">5-</tspan></text>
<text y="445.70" font-size="6.4" text-anchor="middle"><tspan x="53.88 59.03" fill="#231f20" stroke="#231f20" stroke-width="0.0" font-weight="normal">5-</tspan></text>
<text y="435.80" font-size="6.4" text-anchor="middle"><tspan x="64.17 69.32 74.46 79.61 84.75 89.90 95.04 100.19 105.33 110.48 115.62 120.77" fill="#b44c4b" stroke="#b44c4b" stroke-width="0.0" font-weight="normal">GTCGACTCTCAA</tspan><tspan x="125.91 131.06 136.20 141.35 146.49 151.64 156.78 161.93 167.07 172.22 177.36 182.51 187.65 192.80 197.94 203.09 208.23 213.38 218.52 223.67 228.81 233.96 239.10 244.25 249.39 254.54 259.68 264.83 269.97 275.12 280.26 285.41 290.55 295.70 300.84 305.99 311.13 316.28 321.42 326.57 331.71 336.86 342.00 347.15 352.29 357.44 362.58 367.73 372.87 378.02 383.16 388.31 393.45 398.60 403.74 408.89 414.03 419.18 424.32 429.47 434.61" fill="#231f20" stroke="#231f20" stroke-width="0.0" font-weight="normal">gtaagccac...53bp...tagaggtgca...38bp...ttaaaggtgac......tgcag</tspan><tspan x="439.76 444.90 450.05 455.19 460.34 465.48 470.63 475.77 480.92 486.06 491.21 496.35" fill="#b44c4b" stroke="#b44c4b" stroke-width="0.0" font-weight="normal">CGGCACCCGACC</tspan><tspan x="501.50 506.64" fill="#231f20" stroke="#231f20" stroke-width="0.0" font-weight="normal">-3</tspan></text>
<text y="445.70" font-size="6.4" text-anchor="middle"><tspan x="64.17 69.32 74.46 79.61 84.75 89.90 95.04 100.19 105.33 110.48 115.62 120.77" fill="#b44c4b" stroke="#b44c4b" stroke-width="0.0" font-weight="normal">GTCGACTCTCAA</tspan><tspan x="125.91 151.64 156.78 161.93 167.07 172.22 177.36 182.51 187.65 192.80 197.94 203.09 208.23 213.38 218.52 223.67 228.81 233.96 239.10 244.25" fill="#bf6168" stroke="#bf6168" stroke-width="0.0" font-weight="normal">gccac...53bp...tagag</tspan><tspan x="249.39 254.54" fill="#231f20" stroke="#231f20" stroke-width="0.0" font-weight="bold">gt</tspan><tspan x="259.68 264.83 269.97 275.12 280.26 285.41 290.55 295.70 300.84 305.99 311.13 316.28 321.42 326.57 331.71 336.86 342.00 347.15 352.29" fill="#bf6168" stroke="#bf6168" stroke-width="0.0" font-weight="normal">gca...38bp...ttaaag</tspan><tspan x="357.44 362.58" fill="#231f20" stroke="#231f20" stroke-width="0.0" font-weight="bold">gt</tspan><tspan x="367.73 372.87 378.02 383.16 388.31 393.45 398.60 403.74 408.89 414.03 419.18 424.32 429.47 434.61" fill="#231f20" stroke="#231f20" stroke-width="0.0" font-weight="normal">gac......tgcag</tspan><tspan x="439.76 444.90 450.05 455.19 460.34 465.48 470.63 475.77 480.92 486.06 491.21 496.35" fill="#b44c4b" stroke="#b44c4b" stroke-width="0.0" font-weight="normal">CGGCACCCGACC</tspan><tspan x="501.50 506.64" fill="#231f20" stroke="#231f20" stroke-width="0.0" font-weight="normal">-3</tspan></text>
<text x="93.80" y="423.16" font-size="7.4" text-anchor="middle" font-weight="normal" fill="#231f20" stroke="#231f20" stroke-width="0.18" >Exon 8</text>
<text x="280.50" y="406.05" font-size="9.3" text-anchor="middle" font-weight="normal" fill="#231f20" stroke="#231f20" stroke-width="0.18" >WT allele</text>
<text x="279.80" y="422.66" font-size="7.4" text-anchor="middle" font-weight="normal" fill="#231f20" stroke="#231f20" stroke-width="0.18" >Intron 8</text>
<text x="470.20" y="423.46" font-size="7.4" text-anchor="middle" font-weight="normal" fill="#231f20" stroke="#231f20" stroke-width="0.18" >Exon 9</text>
<polyline points="123.7,426.7 279.8,410 436.5,426.7" fill="none" stroke="#231f20" stroke-width="1"/>
<polyline points="246.5,449.2 314.6,466 437,449.5" fill="none" stroke="#231f20" stroke-width="1"/>
<polyline points="355.4,449.2 400.4,466 437.3,449.7" fill="none" stroke="#231f20" stroke-width="1"/>
<text y="467.20" font-size="6.1" text-anchor="middle"><tspan x="33.45 37.75 42.05 46.35 50.65 54.95 59.25 63.55 67.85 72.15 76.45 80.75 85.05 89.35" fill="#231f20" stroke="#231f20" stroke-width="0.0" font-weight="normal">(c.967+2_967+5</tspan></text>
<text x="91.80" y="467.23" font-size="6.2" text-anchor="start" font-weight="normal" fill="#231f20" stroke="#231f20" stroke-width="0.05" >delTAAG)</text>
<line x1="130" y1="465" x2="147.5" y2="465" stroke="#231f20" stroke-width="0.7" stroke-dasharray="2.6,1.8"/>
<line x1="136.3" y1="457.5" x2="136.30" y2="452.10" stroke="#231f20" stroke-width="0.8"/>
<polygon points="136.3,449.5 137.80,452.10 134.80,452.10" fill="#231f20"/>
<text x="251.60" y="471.52" font-size="7.55" text-anchor="middle" font-weight="normal" fill="#231f20" stroke="#231f20" stroke-width="0.18" >Cryptic Splice</text>
<text x="251.60" y="480.66" font-size="7.4" text-anchor="middle" font-weight="normal" fill="#231f20" stroke="#231f20" stroke-width="0.18" >Donor 1</text>
<text x="359.50" y="471.52" font-size="7.55" text-anchor="middle" font-weight="normal" fill="#231f20" stroke="#231f20" stroke-width="0.18" >Cryptic Splice</text>
<text x="359.50" y="480.66" font-size="7.4" text-anchor="middle" font-weight="normal" fill="#231f20" stroke="#231f20" stroke-width="0.18" >Donor 2</text>
<text x="307.20" y="479.15" font-size="9.3" text-anchor="middle" font-weight="normal" fill="#231f20" stroke="#231f20" stroke-width="0.18" >Mut</text>
<text x="307.20" y="490.65" font-size="9.3" text-anchor="middle" font-weight="normal" fill="#231f20" stroke="#231f20" stroke-width="0.18" >Allele</text>
<text x="399.20" y="479.15" font-size="9.3" text-anchor="middle" font-weight="normal" fill="#231f20" stroke="#231f20" stroke-width="0.18" >Mut</text>
<text x="399.20" y="490.65" font-size="9.3" text-anchor="middle" font-weight="normal" fill="#231f20" stroke="#231f20" stroke-width="0.18" >Allele</text>
<circle cx="325" cy="479.7" r="4.9" fill="#111"/>
<text x="325" y="482.15" font-size="6.8" font-weight="bold" text-anchor="middle" fill="#fff">5</text>
<circle cx="417.7" cy="479.2" r="4.9" fill="#111"/>
<text x="417.7" y="481.65" font-size="6.8" font-weight="bold" text-anchor="middle" fill="#fff">6</text>
<circle cx="40" cy="531.0" r="4.9" fill="#111"/>
<text x="40" y="533.45" font-size="6.8" font-weight="bold" text-anchor="middle" fill="#fff">1</text>
<rect x="48.10" y="527.90" width="7.30" height="6.40" fill="#727275"/>
<line x1="56" y1="531" x2="61.5" y2="531" stroke="#d9b8bb" stroke-width="0.8" stroke-dasharray="1,1.4"/>
<path d="M61.7,529.4 L64.7,532.4 M61.7,532.4 L64.7,529.4" stroke="#c8404a" stroke-width="0.8" fill="none"/>
<rect x="69.20" y="522.80" width="68.80" height="15.80" fill="#f7ecdb" stroke="#7d786d" stroke-width="1"/>
<text x="103.60" y="533.45" font-size="7.65" text-anchor="middle" font-weight="normal" fill="#231f20" stroke="#231f20" stroke-width="0.18" >E20GfsTer20</text>
<circle cx="40" cy="552.4" r="4.9" fill="#111"/>
<text x="40" y="554.85" font-size="6.8" font-weight="bold" text-anchor="middle" fill="#fff">2</text>
<rect x="48.10" y="548.90" width="13.10" height="6.90" fill="#727275"/>
<line x1="61.5" y1="552.7" x2="67" y2="552.7" stroke="#d9b8bb" stroke-width="0.8" stroke-dasharray="1,1.4"/>
<path d="M67.8,550.8 L70.8,553.8 M67.8,553.8 L70.8,550.8" stroke="#c8404a" stroke-width="0.8" fill="none"/>
<rect x="74.90" y="544.50" width="70.50" height="16.00" fill="#f7ecdb" stroke="#7d786d" stroke-width="1"/>
<text x="110.15" y="555.25" font-size="7.65" text-anchor="middle" font-weight="normal" fill="#231f20" stroke="#231f20" stroke-width="0.18" >D33GfsTer20</text>
<circle cx="40" cy="573.8" r="4.9" fill="#111"/>
<text x="40" y="576.25" font-size="6.8" font-weight="bold" text-anchor="middle" fill="#fff">3</text>
<rect x="48.10" y="570.40" width="32.30" height="6.70" fill="#727275"/>
<rect x="80.00" y="568.80" width="16.80" height="9.90" fill="#f3a9aa"/>
<path d="M99.8,572.3 L102.8,575.3 M99.8,575.3 L102.8,572.3" stroke="#c8404a" stroke-width="0.8" fill="none"/>
<rect x="106.80" y="565.80" width="76.20" height="15.80" fill="#f7ecdb" stroke="#7d786d" stroke-width="1"/>
<text x="144.90" y="576.45" font-size="7.65" text-anchor="middle" font-weight="normal" fill="#231f20" stroke="#231f20" stroke-width="0.18" >V118GfsTer11</text>
<circle cx="40" cy="595.4" r="4.9" fill="#111"/>
<text x="40" y="597.85" font-size="6.8" font-weight="bold" text-anchor="middle" fill="#fff">4</text>
<rect x="48.10" y="592.30" width="32.30" height="6.50" fill="#727275"/>
<rect x="80.40" y="590.20" width="35.60" height="10.20" fill="#f3a9aa"/>
<text x="98.30" y="598.16" font-size="7.4" text-anchor="middle" font-weight="normal" fill="#231f20" stroke="#231f20" stroke-width="0.18" >RHD</text>
<line x1="117" y1="595.5" x2="128" y2="595.5" stroke="#c8c8ca" stroke-width="0.8" stroke-dasharray="1,1.4"/>
<path d="M129.5,594.3 L132.5,597.3 M129.5,597.3 L132.5,594.3" stroke="#c8404a" stroke-width="0.8" fill="none"/>
<rect x="136.60" y="587.70" width="74.40" height="15.60" fill="#f7ecdb" stroke="#7d786d" stroke-width="1"/>
<text x="173.80" y="598.25" font-size="7.65" text-anchor="middle" font-weight="normal" fill="#231f20" stroke="#231f20" stroke-width="0.18" >F163EfsTer42</text>
<circle cx="219.3" cy="529.6" r="5.0" fill="#111"/>
<text x="219.3" y="532.05" font-size="6.8" font-weight="bold" text-anchor="middle" fill="#fff">5</text>
<rect x="227.70" y="526.80" width="30.80" height="6.60" fill="#727275"/>
<rect x="258.50" y="525.20" width="52.60" height="9.40" fill="#f3a9aa"/>
<rect x="311.10" y="526.80" width="27.00" height="6.60" fill="#727275"/>
<rect x="338.10" y="525.20" width="21.40" height="9.40" fill="#b8cfe5"/>
<text x="285.00" y="532.46" font-size="7.4" text-anchor="middle" font-weight="normal" fill="#231f20" stroke="#231f20" stroke-width="0.18" >RHD</text>
<text x="349.00" y="532.26" font-size="7.1" text-anchor="middle" font-weight="normal" fill="#231f20" stroke="#231f20" stroke-width="0.18" >TAD</text>
<line x1="360.5" y1="530" x2="366" y2="530" stroke="#bfcbd8" stroke-width="0.8" stroke-dasharray="1,1.4"/>
<path d="M367.9,528.5 L370.9,531.5 M367.9,531.5 L370.9,528.5" stroke="#c8404a" stroke-width="0.8" fill="none"/>
<rect x="374.20" y="522.80" width="56.50" height="15.60" fill="#f7ecdb" stroke="#7d786d" stroke-width="1"/>
<text x="402.45" y="533.35" font-size="7.65" text-anchor="middle" font-weight="normal" fill="#231f20" stroke="#231f20" stroke-width="0.18" >T323Sfs25</text>
<circle cx="219.3" cy="553.2" r="5.0" fill="#111"/>
<text x="219.3" y="555.65" font-size="6.8" font-weight="bold" text-anchor="middle" fill="#fff">6</text>
<rect x="227.70" y="550.30" width="30.80" height="6.30" fill="#727275"/>
<rect x="258.50" y="548.80" width="52.60" height="9.50" fill="#f3a9aa"/>
<rect x="311.10" y="550.30" width="27.00" height="6.30" fill="#727275"/>
<rect x="338.10" y="548.80" width="69.20" height="9.50" fill="#b8cfe5"/>
<rect x="407.30" y="550.30" width="16.90" height="6.30" fill="#727275"/>
<text x="284.80" y="556.26" font-size="7.4" text-anchor="middle" font-weight="normal" fill="#231f20" stroke="#231f20" stroke-width="0.18" >RHD</text>
<text x="360.50" y="556.16" font-size="7.1" text-anchor="middle" font-weight="normal" fill="#231f20" stroke="#231f20" stroke-width="0.18" >T</text>
<text x="386.50" y="556.16" font-size="7.1" text-anchor="middle" font-weight="normal" fill="#231f20" stroke="#231f20" stroke-width="0.18" >TAD</text>
<rect x="430.40" y="545.60" width="69.20" height="15.80" fill="#f7ecdb" stroke="#7d786d" stroke-width="1"/>
<text x="465.00" y="556.25" font-size="7.65" text-anchor="middle" font-weight="normal" fill="#231f20" stroke="#231f20" stroke-width="0.18" >T323DelIns37</text>
<polyline points="290.6,566.6 360.4,562.3 429.1,566.1" fill="none" stroke="#444" stroke-width="0.6"/>
<line x1="360.4" y1="558.3" x2="360.4" y2="562.3" stroke="#222" stroke-width="0.8"/>
<text x="360.80" y="570.30" font-size="3.6" text-anchor="middle" font-weight="normal" fill="#231f20" >Ins</text>
<text x="360.60" y="576.40" font-size="5.0" text-anchor="middle" font-weight="normal" fill="#2a2a2a" stroke="#2a2a2a" stroke-width="0.12" textLength="142.6" lengthAdjust="spacingAndGlyphs">SHLKTHSLGLSWGGRSRRLEVHEGVGRTLLSKTWFKA</text>
<circle cx="219.4" cy="595.1" r="5.0" fill="#111"/>
<text x="219.4" y="597.55" font-size="6.8" font-weight="bold" text-anchor="middle" fill="#fff">7</text>
<rect x="227.70" y="592.50" width="30.80" height="6.30" fill="#727275"/>
<rect x="258.50" y="591.20" width="52.50" height="9.40" fill="#f3a9aa"/>
<rect x="311.00" y="592.50" width="26.90" height="6.30" fill="#727275"/>
<rect x="337.90" y="591.20" width="45.40" height="9.40" fill="#b8cfe5"/>
<rect x="383.30" y="592.50" width="19.70" height="6.30" fill="#727275"/>
<text x="284.80" y="598.46" font-size="7.4" text-anchor="middle" font-weight="normal" fill="#231f20" stroke="#231f20" stroke-width="0.18" >RHD</text>
<text x="341.30" y="598.36" font-size="7.1" text-anchor="middle" font-weight="normal" fill="#231f20" stroke="#231f20" stroke-width="0.18" >A</text>
<text x="366.00" y="598.36" font-size="7.1" text-anchor="middle" font-weight="normal" fill="#231f20" stroke="#231f20" stroke-width="0.18" >TAD</text>
<rect x="407.70" y="587.70" width="95.80" height="17.10" fill="#f7ecdb" stroke="#7d786d" stroke-width="1"/>
<text x="455.60" y="599.00" font-size="7.65" text-anchor="middle" font-weight="normal" fill="#231f20" stroke="#231f20" stroke-width="0.18" >D269_T323DelInsA</text>
<polyline points="268.7,608.5 337.9,604.1 407.5,608.4" fill="none" stroke="#444" stroke-width="0.6"/>
<line x1="337.9" y1="600.6" x2="337.9" y2="604.1" stroke="#222" stroke-width="0.8"/>
<text x="337.50" y="611.60" font-size="3.6" text-anchor="middle" font-weight="normal" fill="#231f20" >Del</text>
<text x="338.40" y="617.31" font-size="4.2" text-anchor="middle" font-weight="normal" fill="#333" textLength="141.3" lengthAdjust="spacingAndGlyphs">DTRQGPSPPWSYDQSYQYLGSASPSHPKTRSPGRASGMTTLSAELSSRLST</text>
</svg></body></html>
